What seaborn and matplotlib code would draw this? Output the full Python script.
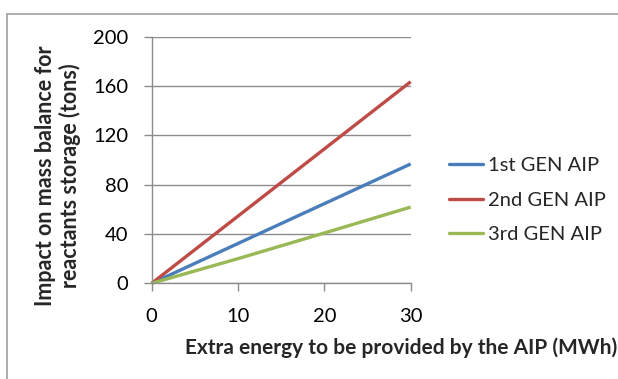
import matplotlib
matplotlib.use("Agg")
import matplotlib.pyplot as plt
import seaborn as sns
import pandas as pd
from matplotlib.lines import Line2D

energy = [0, 10, 20, 30]
gen1 = [0, 32.3, 64.6, 96.8]
gen2 = [0, 54.5, 109.0, 163.5]
gen3 = [0, 20.0, 40.8, 61.8]
series_names = ["1st GEN AIP", "2nd GEN AIP", "3rd GEN AIP"]
colors = ["#4A7EBB", "#BE4B48", "#98B954"]
yticks = [0, 40, 80, 120, 160, 200]
xticks = [0, 10, 20, 30]

rows = []
for name, vals in zip(series_names, [gen1, gen2, gen3]):
    for x, y in zip(energy, vals):
        rows.append({"energy": x, "mass": y, "series": name})
df = pd.DataFrame(rows)

sns.set_theme(style="white")
plt.rcParams["font.family"] = ["Lato", "DejaVu Sans"]

W, H = 618, 379
fig = plt.figure(figsize=(W / 100, H / 100), dpi=100)
ax = fig.add_axes([151.7 / W, 1 - 283.3 / H, (410.7 - 151.7) / W, (283.3 - 36.7) / H])

sns.lineplot(data=df, x="energy", y="mass", hue="series", palette=colors,
             hue_order=series_names, linewidth=2.4, ax=ax, legend=False,
             errorbar=None)
for ln in ax.lines:
    ln.set_clip_on(False)
    ln.set_solid_capstyle("butt")

ax.set_xlim(0, 30)
ax.set_ylim(0, 200)
ax.set_xticks(xticks)
ax.set_yticks(yticks)
ax.set_xticklabels([str(t) for t in xticks])
ax.set_yticklabels([str(t) for t in yticks])
grid_c = "#8C8C8C"
ax.yaxis.grid(True, color=grid_c, linewidth=1.0)
ax.xaxis.grid(False)
ax.set_axisbelow(True)
for s in ["top", "right"]:
    ax.spines[s].set_visible(False)
for s in ["left", "bottom"]:
    ax.spines[s].set_color(grid_c)
    ax.spines[s].set_linewidth(1.0)
ax.tick_params(axis="y", direction="out", length=6, width=1.0, color=grid_c,
               pad=11, labelsize=14.5, labelcolor="black", left=True)
ax.tick_params(axis="x", direction="out", length=6, width=1.0, color=grid_c,
               pad=12, labelsize=14.5, labelcolor="black", bottom=True)
ax.set_xlabel("")
ax.set_ylabel("")

fig.text(58 / W, 1 - 176 / H, "Impact on mass balance for\nreactants storage (tons)",
         rotation=90, ha="center", va="center", fontsize=15.5, fontweight="bold",
         linespacing=1.2)
fig.text(401 / W, 1 - 348 / H, "Extra energy to be provided by the AIP (MWh)",
         ha="center", va="center", fontsize=15, fontweight="bold")

handles = [Line2D([0], [0], color=c, lw=2.4) for c in colors]
fig.legend(handles, series_names, loc="center left",
           bbox_to_anchor=(449 / W, 1 - 200 / H), frameon=False,
           fontsize=14.5, handlelength=1.7, handletextpad=0.25,
           labelspacing=0.85, borderaxespad=0, borderpad=0)

# outer chart frame
frame_c = "#A6A6A6"
fig.add_artist(Line2D([7.3 / W, 7.3 / W], [0, 1 - 14 / H], color=frame_c, lw=1.3,
                      transform=fig.transFigure))
fig.add_artist(Line2D([7.3 / W, 1], [1 - 14 / H, 1 - 14 / H], color=frame_c, lw=1.3,
                      transform=fig.transFigure))

fig.savefig("out.png", dpi=100)
